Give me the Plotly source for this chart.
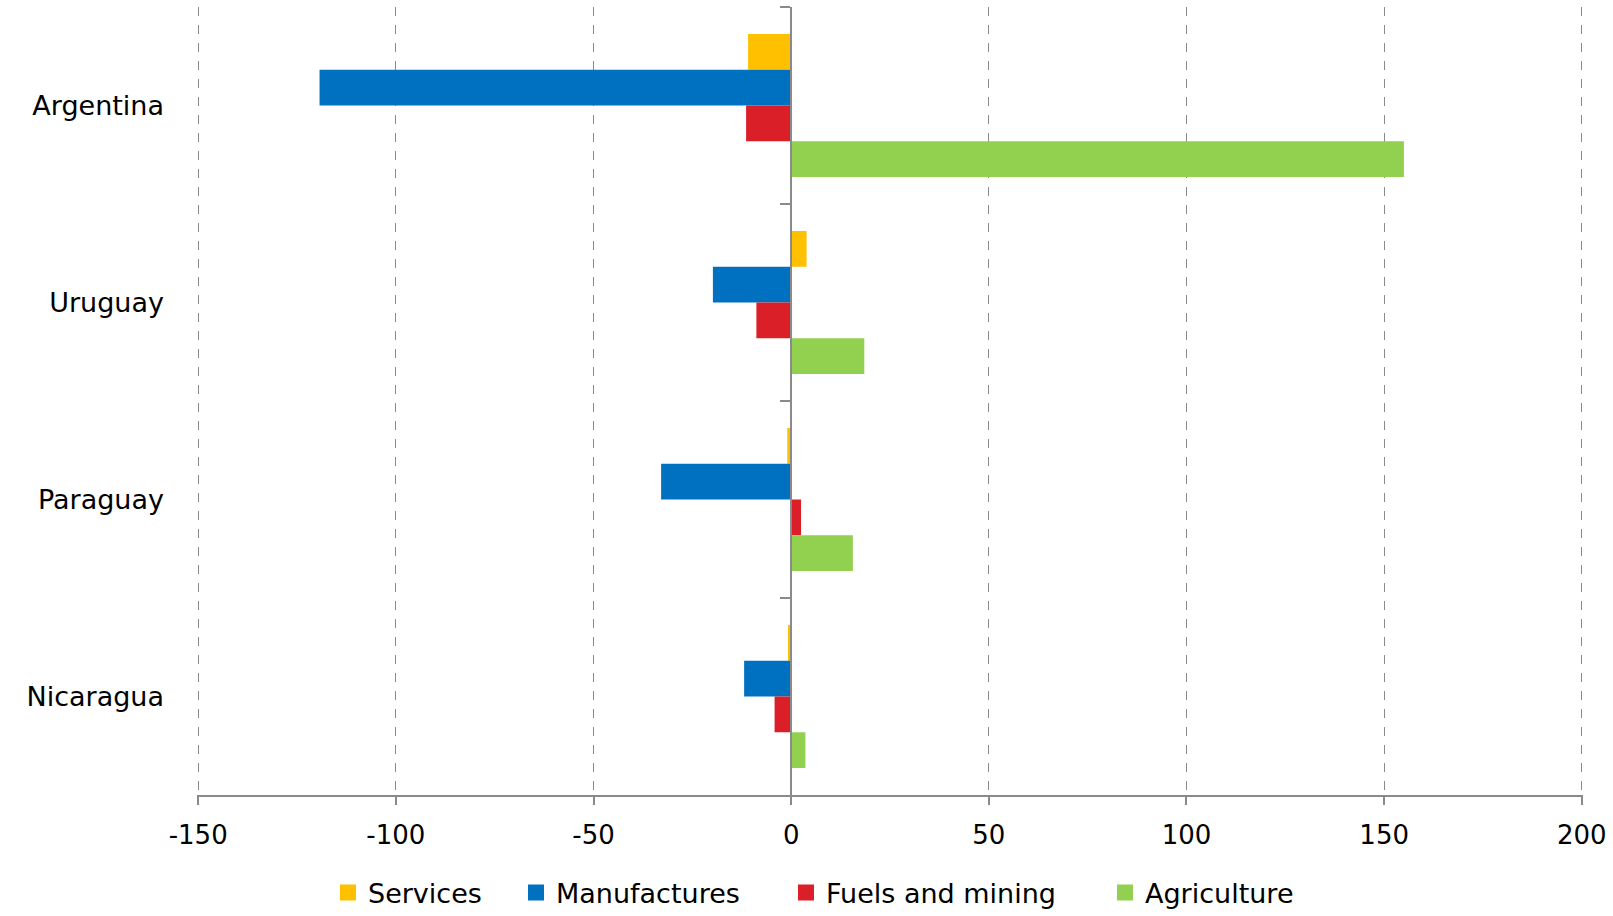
import plotly.graph_objects as go

countries = ["Argentina", "Uruguay", "Paraguay", "Nicaragua"]
series_names = ["Services", "Manufactures", "Fuels and mining", "Agriculture"]
services = [-10.9, 3.9, -1.0, -0.8]
manufactures = [-119.3, -19.8, -32.9, -11.9]
fuels_mining = [-11.4, -8.8, 2.5, -4.2]
agriculture = [155.0, 18.5, 15.6, 3.6]
colors = ["#FFC000", "#0070C0", "#DA1F28", "#92D050"]
x_ticks = [-150, -100, -50, 0, 50, 100, 150, 200]

FONT = "DejaVu Sans"
W, H = 1613, 916
legend_ids = ["legend", "legend2", "legend3", "legend4"]
legend_px = [328, 516, 786, 1105]
PAD = 0.3

fig = go.Figure()
for name, vals, col, lid in zip(series_names, [services, manufactures, fuels_mining, agriculture],
                                colors, legend_ids):
    fig.add_trace(go.Bar(y=countries, x=vals, name=name, orientation="h",
                         marker=dict(color=col, line=dict(width=0)),
                         showlegend=False, xaxis="x", yaxis="y"))
    # legend entry with a larger square swatch
    fig.add_trace(go.Scatter(x=[None], y=[None], mode="markers", name=name,
                             marker=dict(symbol="square", size=18, color=col),
                             legend=lid, hoverinfo="skip", xaxis="x", yaxis="y"))

# invisible helper trace to draw the category axis at x = 0
fig.add_trace(go.Scatter(y=countries, x=[0] * len(countries), mode="markers",
                         marker=dict(opacity=0), showlegend=False, hoverinfo="skip",
                         xaxis="x", yaxis="y2"))

legends = {}
for lid, px in zip(legend_ids, legend_px):
    legends[lid] = dict(orientation="h", xref="container", yref="container",
                        x=px / W, xanchor="left", y=1 - 893 / H, yanchor="middle",
                        font=dict(family=FONT, size=27), itemwidth=30, itemsizing="trace",
                        bgcolor="rgba(0,0,0,0)")

fig.update_layout(
    width=W, height=H,
    margin=dict(l=197, r=30, t=7, b=121),
    plot_bgcolor="white", paper_bgcolor="white",
    barmode="group", bargap=0.274, bargroupgap=0,
    font=dict(family=FONT, size=27, color="black"),
    xaxis=dict(range=[-150 - PAD, 200 + PAD], tickvals=x_ticks, ticktext=[str(v) for v in x_ticks],
               showgrid=True, gridcolor="#8a8a8a", griddash="dash", gridwidth=1,
               zeroline=False, showline=True, linecolor="#8a8a8a", linewidth=1.5,
               ticks="outside", ticklen=8, tickcolor="#8a8a8a", tickwidth=1.5,
               tickfont=dict(family=FONT, size=26), ticklabelstandoff=8),
    yaxis=dict(autorange="reversed", type="category", categoryorder="array",
               categoryarray=countries, showgrid=False, zeroline=False, showline=False,
               ticks="", tickfont=dict(family=FONT, size=27), ticklabelstandoff=32),
    yaxis2=dict(overlaying="y", matches="y", anchor="free",
                position=(150 + PAD) / (350 + 2 * PAD), side="left",
                type="category", showgrid=False, zeroline=False, showline=True,
                linecolor="#8a8a8a", linewidth=2, ticks="outside", tickson="boundaries",
                ticklen=10, tickcolor="#8a8a8a", tickwidth=1.5, showticklabels=False),
    **legends,
)

fig.write_html("out.html")
